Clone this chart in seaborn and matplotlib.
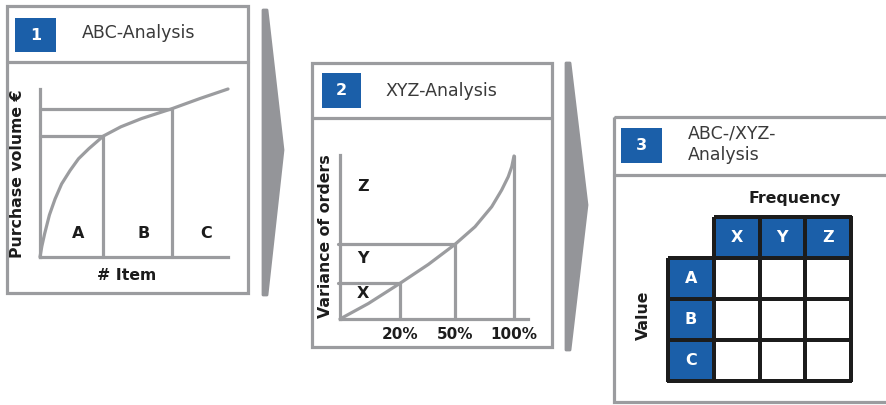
import numpy as np
import matplotlib
matplotlib.use("Agg")
import matplotlib.pyplot as plt
from matplotlib.patches import Rectangle, Polygon
from matplotlib.colors import ListedColormap, to_rgba
import seaborn as sns

# ABC analysis: share of items vs. cumulative purchase volume
abc_items = [0.0, 0.01, 0.025, 0.05, 0.08, 0.115, 0.16, 0.205, 0.26, 0.337, 0.43, 0.54, 0.70, 0.85, 1.0]
abc_volume = [0.0, 0.065, 0.14, 0.25, 0.345, 0.435, 0.515, 0.585, 0.645, 0.72, 0.775, 0.824, 0.882, 0.943, 1.0]
abc_bounds_x = [0.337, 0.70]
abc_bounds_y = [0.72, 0.882]
abc_classes = ["A", "B", "C"]

# XYZ analysis: share of items vs. variance of orders
xyz_share = [0.0, 0.163, 0.345, 0.508, 0.661, 0.776, 0.872, 0.929, 0.967, 0.987, 1.0]
xyz_variance = [0.0, 0.095, 0.219, 0.335, 0.458, 0.566, 0.689, 0.791, 0.873, 0.934, 1.0]
xyz_bounds_x = [0.345, 0.661, 1.0]
xyz_bounds_y = [0.219, 0.458, 1.0]
xyz_tick_labels = ["20%", "50%", "100%"]
xyz_classes = ["X", "Y", "Z"]

# Combined matrix
value_classes = ["A", "B", "C"]
freq_classes = ["X", "Y", "Z"]

panel_titles = ["ABC-Analysis", "XYZ-Analysis", "ABC-/XYZ-\nAnalysis"]
panel_numbers = ["1", "2", "3"]

W, H, DPI = 887, 405, 100
BLUE = "#1b5fa9"
GRAY = "#9b9c9f"
ARROW = "#949599"
INK = "#1c1c1c"
TITLE = "#3a3a3a"
LW = 2.3
LABEL_FS = 11.3

sns.set_theme(style="white")
plt.rcParams["font.family"] = ["DejaVu Sans"]

fig = plt.figure(figsize=(W / DPI, H / DPI), dpi=DPI)
bg = fig.add_axes([0, 0, 1, 1])
bg.set_xlim(0, W)
bg.set_ylim(H, 0)
bg.axis("off")


def px_axes(x0, y0, x1, y1):
    ax = fig.add_axes([x0 / W, 1 - y1 / H, (x1 - x0) / W, (y1 - y0) / H])
    ax.patch.set_alpha(0)
    return ax


def panel(box, ydiv, square, num, title, tpos):
    x0, y0, x1, y1 = box
    bg.add_patch(Rectangle((x0, y0), x1 - x0, y1 - y0, fill=False, ec=GRAY, lw=LW))
    bg.plot([x0, x1], [ydiv, ydiv], color=GRAY, lw=LW)
    sx0, sy0, sx1, sy1 = square
    bg.add_patch(Rectangle((sx0, sy0), sx1 - sx0, sy1 - sy0, color=BLUE, lw=0))
    bg.text((sx0 + sx1) / 2, (sy0 + sy1) / 2, num, color="white", fontsize=11.5,
            fontweight="bold", ha="center", va="center")
    tx, ty = tpos
    for i, line in enumerate(title.split("\n")):
        bg.text(tx, ty + 22 * i, line, color=TITLE, fontsize=12.5, ha="left", va="center")


panel((7, 6, 248, 293), 62, (15, 18, 56, 52), panel_numbers[0], panel_titles[0], (82, 33))
panel((312, 63, 552, 347), 118, (322, 73, 361, 108), panel_numbers[1], panel_titles[1], (385, 91))
panel((614, 117, 905, 402), 175, (621, 128, 662, 163), panel_numbers[2], panel_titles[2], (688, 133))

# chevron arrows between the steps
for pts in ([(263, 10), (267, 10), (283, 150), (267, 295), (263, 295)],
            [(566, 63), (570, 63), (587, 205), (570, 350), (566, 350)]):
    bg.add_patch(Polygon(pts, closed=True, fc=ARROW, ec=ARROW, lw=2, joinstyle="round"))


def style_axes(ax):
    for side in ("top", "right"):
        ax.spines[side].set_visible(False)
    for side in ("left", "bottom"):
        ax.spines[side].set_color(GRAY)
        ax.spines[side].set_linewidth(LW)
    ax.set_xlabel("")
    ax.set_ylabel("")


# --- ABC curve ---
ax1 = px_axes(40, 89, 228, 257)
sns.lineplot(x=abc_items, y=abc_volume, ax=ax1, color=GRAY, lw=LW)
for xb, yb in zip(abc_bounds_x, abc_bounds_y):
    ax1.plot([0, xb], [yb, yb], color=GRAY, lw=LW)
    ax1.plot([xb, xb], [0, yb], color=GRAY, lw=LW)
for ln in ax1.lines:
    ln.set_clip_on(False)
    ln.set_solid_joinstyle("round")
ax1.set_xlim(0, 1)
ax1.set_ylim(0, 1)
ax1.set_xticks([])
ax1.set_yticks([])
style_axes(ax1)
edges = [0.0] + abc_bounds_x + [1.0]
for cls, a, b in zip(abc_classes, edges[:-1], edges[1:]):
    ax1.text((a + b) / 2 + 0.032, 0.14, cls, color=INK, fontsize=11.5,
             fontweight="bold", ha="center", va="center")
bg.text(127, 275, "# Item", color=INK, fontsize=LABEL_FS, fontweight="bold",
        ha="center", va="center")
bg.text(18, 174, "Purchase volume €", color=INK, fontsize=LABEL_FS, fontweight="bold",
        ha="center", va="center", rotation=90)

# --- XYZ curve ---
ax2 = px_axes(340, 155, 528, 319)
sns.lineplot(x=xyz_share, y=xyz_variance, ax=ax2, color=GRAY, lw=LW)
for i, (xb, yb) in enumerate(zip(xyz_bounds_x, xyz_bounds_y)):
    if i < len(xyz_bounds_x) - 1:
        ax2.plot([-0.01, xb], [yb, yb], color=GRAY, lw=LW)
    ax2.plot([xb, xb], [0, yb], color=GRAY, lw=LW)
for ln in ax2.lines:
    ln.set_clip_on(False)
    ln.set_solid_joinstyle("round")
ax2.set_xlim(0, 188 / 174)
ax2.set_ylim(0, 164 / 163)
ax2.set_yticks([])
ax2.set_xticks(xyz_bounds_x, xyz_tick_labels)
ax2.tick_params(axis="x", length=0, pad=6, labelsize=11, labelcolor=INK)
for lab in ax2.get_xticklabels():
    lab.set_fontweight("bold")
style_axes(ax2)
for cls, yy in zip(xyz_classes, [0.158, 0.372, 0.812]):
    ax2.text(0.134, yy, cls, color=INK, fontsize=11.5, fontweight="bold",
             ha="center", va="center")
bg.text(326, 236, "Variance of orders", color=INK, fontsize=LABEL_FS, fontweight="bold",
        ha="center", va="center", rotation=90)

# --- ABC/XYZ matrix ---
n_rows, n_cols = len(value_classes) + 1, len(freq_classes) + 1
grid = np.zeros((n_rows, n_cols))
grid[0, :] = 1
grid[:, 0] = 1
grid[0, 0] = np.nan
annot = np.full((n_rows, n_cols), "", dtype=object)
annot[0, 1:] = freq_classes
annot[1:, 0] = value_classes

ax3 = px_axes(668, 217, 851, 381)
sns.heatmap(grid, mask=np.isnan(grid), cmap=ListedColormap(["white", BLUE]),
            vmin=0, vmax=1, cbar=False, linewidths=1.6, linecolor=INK,
            annot=annot, fmt="", xticklabels=False, yticklabels=False,
            annot_kws=dict(color="white", fontsize=11.5, fontweight="bold"), ax=ax3)
mesh = ax3.collections[0]
mesh.set_clip_on(False)
edge_colors = np.tile(to_rgba(INK), (n_rows * n_cols, 1))
edge_colors[0] = (1, 1, 1, 0)  # the empty corner cell gets no outline
mesh.set_edgecolor(edge_colors)
bg.text(795, 199, "Frequency", color=INK, fontsize=LABEL_FS, fontweight="bold",
        ha="center", va="center")
bg.text(643, 315, "Value", color=INK, fontsize=LABEL_FS, fontweight="bold",
        ha="center", va="center", rotation=90)

fig.savefig("out.png", dpi=DPI, facecolor="white")
